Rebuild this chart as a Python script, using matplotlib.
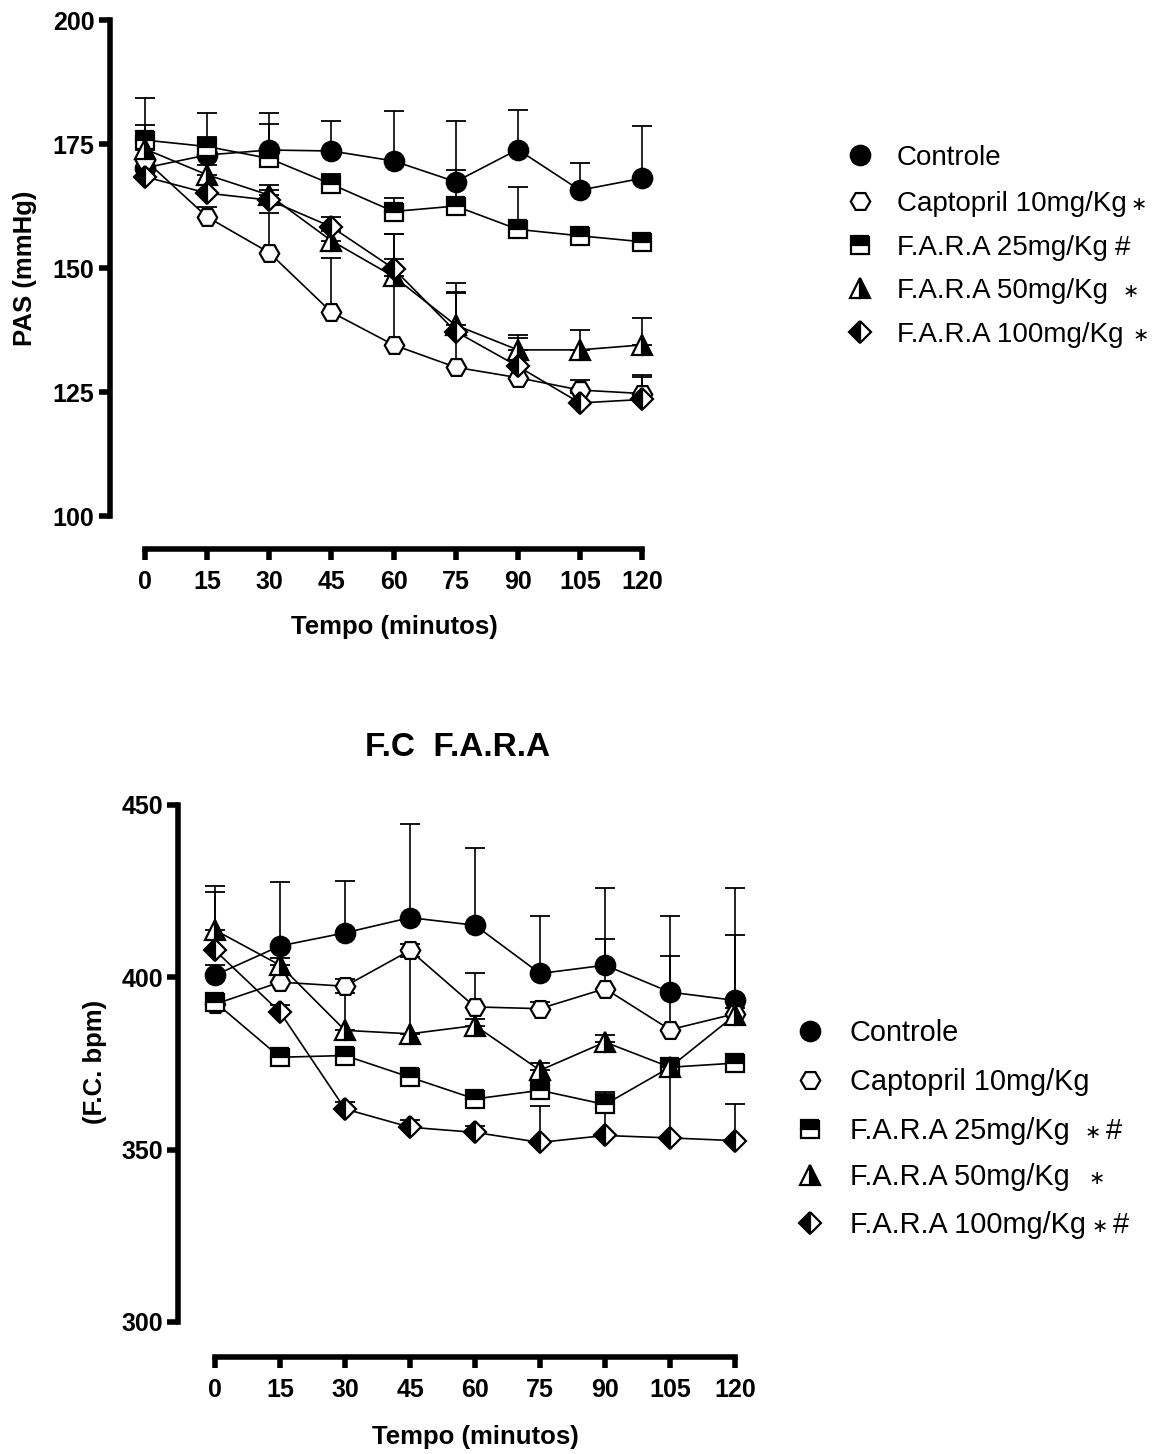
import numpy as np
import matplotlib
matplotlib.use("Agg")
import matplotlib.pyplot as plt
from matplotlib.lines import Line2D

plt.rcParams['font.family'] = ['Liberation Sans', 'DejaVu Sans']

tempo = [0, 15, 30, 45, 60, 75, 90, 105, 120]

# PAS (mmHg)
pas_controle = [170.2, 172.8, 173.8, 173.6, 171.6, 167.4, 173.9, 165.7, 168.1]
pas_controle_err = [14.0, 8.5, 7.5, 6.0, 10.0, 12.3, 8.0, 5.4, 10.5]
pas_captopril = [171.8, 160.3, 153.1, 141.1, 134.5, 130.0, 127.9, 125.4, 124.7]
pas_captopril_err = [2.0, 2.0, 8.0, 11.0, 22.3, 15.0, 2.0, 2.0, 3.7]
pas_fara25 = [175.8, 174.5, 172.1, 166.9, 161.4, 162.5, 157.8, 156.5, 155.3]
pas_fara25_err = [3.0, 2.0, 7.0, 2.0, 2.7, 7.3, 8.5, 1.0, 1.0]
pas_fara50 = [174.0, 168.8, 164.7, 155.5, 148.3, 138.5, 133.5, 133.5, 134.5]
pas_fara50_err = [2.0, 2.0, 2.0, 2.0, 8.5, 8.4, 3.0, 4.1, 5.4]
pas_fara100 = [168.4, 165.1, 163.7, 158.3, 149.9, 137.2, 130.2, 122.8, 123.5]
pas_fara100_err = [2.0, 2.0, 2.0, 2.0, 2.0, 8.0, 5.6, 2.0, 4.5]

# F.C. (bpm)
fc_controle = [400.6, 409.1, 412.9, 417.3, 415.1, 401.1, 403.5, 395.7, 393.3]
fc_controle_err = [3.0, 18.6, 15.1, 27.2, 22.5, 16.6, 22.3, 22.0, 32.5]
fc_captopril = [392.2, 398.6, 397.4, 407.8, 391.4, 390.9, 396.7, 384.8, 389.4]
fc_captopril_err = [2.0, 2.0, 2.0, 2.0, 9.9, 2.0, 14.5, 21.4, 23.0]
fc_fara25 = [392.8, 376.8, 377.3, 371.0, 364.7, 367.2, 363.1, 373.9, 375.1]
fc_fara25_err = [2.0, 2.0, 2.0, 2.0, 2.0, 2.0, 3.0, 2.0, 2.0]
fc_fara50 = [413.7, 403.5, 384.6, 383.6, 386.0, 373.0, 381.2, 373.9, 389.0]
fc_fara50_err = [12.8, 2.0, 10.8, 22.3, 2.0, 2.0, 2.0, 2.0, 2.0]
fc_fara100 = [407.8, 389.9, 361.8, 356.5, 355.0, 352.1, 354.1, 353.4, 352.6]
fc_fara100_err = [17.0, 2.0, 2.0, 2.0, 2.0, 10.7, 12.6, 20.0, 10.7]

grupos = ['Controle', 'Captopril 10mg/Kg', 'F.A.R.A 25mg/Kg',
          'F.A.R.A 50mg/Kg', 'F.A.R.A 100mg/Kg']
# marcas de significancia: (simbolo, x em px)
sig_pas = [[], [('*', 1139)], [('#', 1123)], [('*', 1131)], [('*', 1141)]]
sig_fc = [[], [], [('*', 1093), ('#', 1114)], [('*', 1097)], [('*', 1100), ('#', 1121)]]

estilos = [
    dict(marker='o', markerfacecolor='black', markersize=14),
    dict(marker='H', markerfacecolor='white', markersize=14),
    dict(marker='s', fillstyle='top', markerfacecolor='black', markerfacecoloralt='white', markersize=12.5),
    dict(marker='^', fillstyle='right', markerfacecolor='black', markerfacecoloralt='white', markersize=14),
    dict(marker='D', fillstyle='left', markerfacecolor='black', markerfacecoloralt='white', markersize=11),
]

W, H = 1157, 1454
fig = plt.figure(figsize=(W / 100, H / 100), dpi=100)


def fx(x):
    return x / W


def fy(y):
    return 1 - y / H


def painel(ax, series, erros, ylim, yticks, outward):
    for y, e in zip(series, erros):
        ax.errorbar(tempo, y, yerr=[np.zeros(len(e)), e], fmt='none', ecolor='black',
                    elinewidth=1.2, capsize=7, capthick=1.3, zorder=1, clip_on=False)
    for y, st in zip(series, estilos):
        ax.plot(tempo, y, color='black', lw=1.2, markeredgecolor='black',
                markeredgewidth=1.6, zorder=3, clip_on=False, **st)
    ax.set_xlim(-8.5, 125)
    ax.set_ylim(*ylim)
    ax.set_xticks(tempo)
    ax.set_yticks(yticks)
    for s in ['top', 'right']:
        ax.spines[s].set_visible(False)
    ax.spines['left'].set_linewidth(4)
    ax.spines['bottom'].set_linewidth(4)
    ax.spines['bottom'].set_bounds(0, 120)
    ax.spines['bottom'].set_position(('outward', outward))
    ax.tick_params(width=4, length=8, labelsize=18)
    ax.tick_params(axis='x', pad=7)
    ax.tick_params(axis='y', pad=3)
    for t in ax.get_xticklabels() + ax.get_yticklabels():
        t.set_fontweight('bold')


def legenda(xm, xt, linhas, sig, fs):
    cap = fs * 100 / 72 * 0.716
    for i, (yc, st) in enumerate(zip(linhas, estilos)):
        fig.add_artist(Line2D([fx(xm)], [fy(yc)], transform=fig.transFigure, ls='none',
                              color='black', markeredgecolor='black', markeredgewidth=1.6, **st))
        fig.text(fx(xt), fy(yc + cap / 2), grupos[i], fontsize=fs, va='baseline', ha='left')
        for simb, xs in sig[i]:
            if simb == '*':
                fig.text(fx(xs), fy(yc + 9), '\u2217', fontsize=14, va='baseline',
                         ha='center', family='DejaVu Sans')
            else:
                fig.text(fx(xs), fy(yc + cap / 2), simb, fontsize=fs, va='baseline', ha='center')


# Painel superior: PAS
ax1 = fig.add_axes([0.0949, 0.6451, 0.4779, 0.3411])
painel(ax1, [pas_controle, pas_captopril, pas_fara25, pas_fara50, pas_fara100],
       [pas_controle_err, pas_captopril_err, pas_fara25_err, pas_fara50_err, pas_fara100_err],
       (100, 200), [100, 125, 150, 175, 200], 24)
fig.text(0.0216, fy(268), 'PAS (mmHg)', rotation=90, ha='center', va='center',
         fontsize=18.5, fontweight='bold')
fig.text(fx(394), fy(627), 'Tempo (minutos)', ha='center', va='center',
         fontsize=18.5, fontweight='bold')
legenda(860, 897, [155, 201, 245, 288, 332], sig_pas, 20)

# Painel inferior: F.C.
ax2 = fig.add_axes([0.1540, 0.0908, 0.5000, 0.3556])
painel(ax2, [fc_controle, fc_captopril, fc_fara25, fc_fara50, fc_fara100],
       [fc_controle_err, fc_captopril_err, fc_fara25_err, fc_fara50_err, fc_fara100_err],
       (300, 450), [300, 350, 400, 450], 25)
fig.text(fx(95), fy(1062), '(F.C. bpm)', rotation=90, ha='center', va='center',
         fontsize=18.5, fontweight='bold')
fig.text(fx(475), fy(1437), 'Tempo (minutos)', ha='center', va='center',
         fontsize=18.5, fontweight='bold')
fig.text(fx(458), fy(748), 'F.C  F.A.R.A', ha='center', va='center',
         fontsize=24, fontweight='bold')
legenda(810, 850, [1031, 1080, 1129, 1175, 1223], sig_fc, 20.8)

fig.savefig('out.png', dpi=100)
